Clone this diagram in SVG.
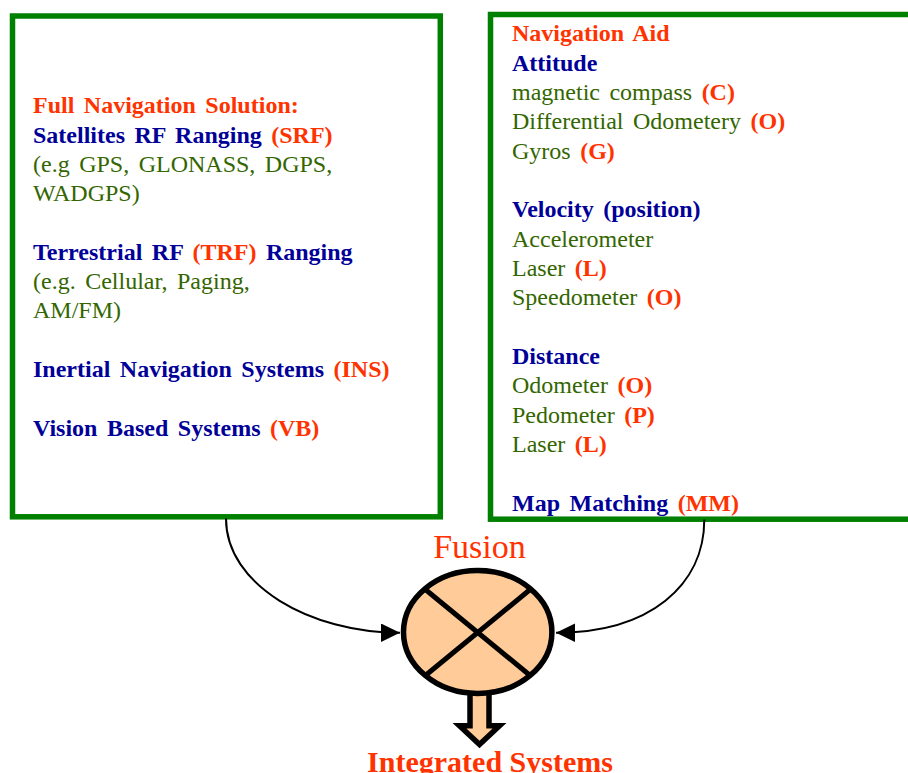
<svg xmlns="http://www.w3.org/2000/svg" width="908" height="773" viewBox="0 0 908 773">
  <style>
    .box { fill: #ffffff; stroke: #008000; stroke-width: 5.5; }
    .t { font-family: "Liberation Serif", "Times New Roman", serif; font-size: 24px; word-spacing: 3.5px; }
    .r { fill: #ff3300; font-weight: bold; }
    .b { fill: #000099; font-weight: bold; }
    .g { fill: #336600; font-weight: normal; }
    .conn { fill: none; stroke: #000000; stroke-width: 2; }
    .fuse { fill: #ffcc99; stroke: #000000; stroke-width: 5.5; }
    .cross { stroke: #000000; stroke-width: 5; stroke-linecap: butt; }
  </style>
  <defs>
    <marker id="ah" markerUnits="userSpaceOnUse" markerWidth="20" markerHeight="20" refX="19" refY="9.2" orient="auto">
      <path d="M0,0 L19,9.2 L0,18.4 Z" fill="#000000"/>
    </marker>
  </defs>
  <rect width="908" height="773" fill="#ffffff"/>

  <g id="full-navigation">
    <rect class="box" x="12.5" y="16" width="427.8" height="500.8"/>
    <text class="t" x="33" y="113.3"><tspan class="r">Full Navigation Solution:</tspan></text>
    <text class="t b" x="33" y="142.6">Satellites RF Ranging <tspan class="r">(SRF)</tspan></text>
    <text class="t g" x="33" y="171.9">(e.g GPS, GLONASS, DGPS,</text>
    <text class="t g" x="33" y="201.2">WADGPS)</text>
    <text class="t b" x="33" y="259.8">Terrestrial RF <tspan class="r">(TRF)</tspan> Ranging</text>
    <text class="t g" x="33" y="289.1">(e.g. Cellular, Paging,</text>
    <text class="t g" x="33" y="318.4">AM/FM)</text>
    <text class="t b" x="33" y="376.9">Inertial Navigation Systems <tspan class="r">(INS)</tspan></text>
    <text class="t b" x="33" y="435.5">Vision Based Systems <tspan class="r">(VB)</tspan></text>
  </g>

  <g id="navigation-aid">
    <rect class="box" x="490.5" y="14.5" width="430" height="504.7"/>
    <text class="t r" x="512" y="41.2">Navigation Aid</text>
    <text class="t b" x="512" y="70.5">Attitude</text>
    <text class="t g" x="512" y="99.9">magnetic compass <tspan class="r">(C)</tspan></text>
    <text class="t g" x="512" y="129.2">Differential Odometery <tspan class="r">(O)</tspan></text>
    <text class="t g" x="512" y="158.6">Gyros <tspan class="r">(G)</tspan></text>
    <text class="t b" x="512" y="217.3">Velocity (position)</text>
    <text class="t g" x="512" y="246.6">Accelerometer</text>
    <text class="t g" x="512" y="276">Laser <tspan class="r">(L)</tspan></text>
    <text class="t g" x="512" y="305.3">Speedometer <tspan class="r">(O)</tspan></text>
    <text class="t b" x="512" y="364">Distance</text>
    <text class="t g" x="512" y="393.4">Odometer <tspan class="r">(O)</tspan></text>
    <text class="t g" x="512" y="422.7">Pedometer <tspan class="r">(P)</tspan></text>
    <text class="t g" x="512" y="452.1">Laser <tspan class="r">(L)</tspan></text>
    <text class="t b" x="512" y="510.8">Map Matching <tspan class="r">(MM)</tspan></text>
  </g>

  <g id="connectors">
    <path class="conn" d="M226,518.5 C226,585 310,632.7 400,632.7" marker-end="url(#ah)"/>
    <path class="conn" d="M704.3,519.5 C704.3,585 650,632.7 556,632.7" marker-end="url(#ah)"/>
  </g>

  <g id="output-arrow">
    <polygon class="fuse" stroke-linejoin="miter" points="470,688 489,688 489,725.8 499.5,725.8 479.5,744.5 459.5,725.8 470,725.8"/>
  </g>

  <g id="fusion">
    <text x="479.5" y="558.3" text-anchor="middle" font-family="Liberation Serif, 'Times New Roman', serif" font-size="34" fill="#ff3300">Fusion</text>
    <ellipse class="fuse" cx="477.7" cy="632" rx="74.2" ry="61.5"/>
    <line class="cross" x1="426" y1="590" x2="529.5" y2="675"/>
    <line class="cross" x1="529.5" y1="590" x2="426" y2="675"/>
  </g>

  <g id="integrated-systems">
    <text x="490" y="771.5" text-anchor="middle" font-family="Liberation Serif, 'Times New Roman', serif" font-size="30" font-weight="bold" fill="#ff3300">Integrated Systems</text>
  </g>
</svg>
